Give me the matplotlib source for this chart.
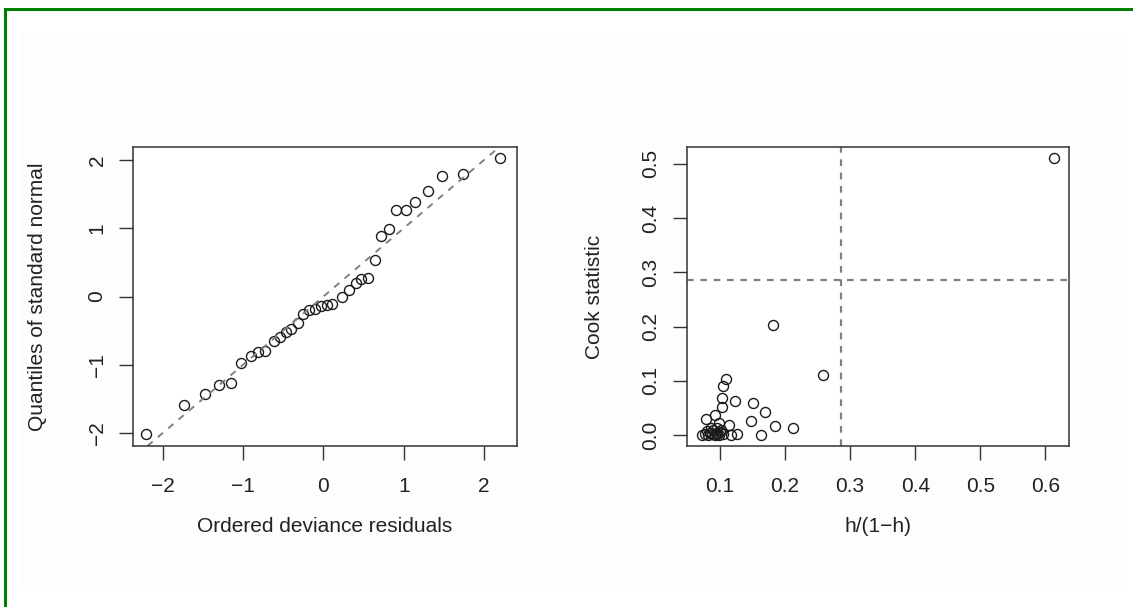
import numpy as np
import matplotlib
matplotlib.use("Agg")
import matplotlib.pyplot as plt
from matplotlib.lines import Line2D
from matplotlib.patches import Rectangle

plt.rcParams['font.family'] = ['Liberation Sans', 'DejaVu Sans']

# left panel: ordered deviance residuals vs normal quantiles
resid = [-2.21, -1.73, -1.47, -1.30, -1.15, -1.02, -0.90, -0.81, -0.73, -0.62,
         -0.54, -0.47, -0.40, -0.32, -0.25, -0.18, -0.11, -0.03, 0.04, 0.11,
         0.23, 0.32, 0.40, 0.47, 0.55, 0.64, 0.72, 0.82, 0.91, 1.03,
         1.14, 1.30, 1.48, 1.74, 2.20]
quant = [-2.02, -1.59, -1.43, -1.30, -1.26, -0.98, -0.87, -0.82, -0.80, -0.65,
         -0.60, -0.52, -0.48, -0.39, -0.26, -0.20, -0.18, -0.14, -0.13, -0.11,
         0.00, 0.10, 0.20, 0.26, 0.27, 0.54, 0.89, 0.99, 1.26, 1.26,
         1.38, 1.54, 1.76, 1.80, 2.03]

# right panel: leverage h/(1-h) vs Cook statistic
lev = [0.6136, 0.181, 0.2587, 0.109, 0.105, 0.1036, 0.123, 0.1025, 0.150, 0.169,
       0.092, 0.0785, 0.147, 0.1845, 0.2117, 0.114, 0.099, 0.163, 0.1256, 0.1164,
       0.072, 0.077, 0.081, 0.085, 0.088, 0.090, 0.092, 0.094, 0.096, 0.098,
       0.100, 0.102, 0.104, 0.086, 0.080, 0.095]
cook = [0.5105, 0.2024, 0.1107, 0.1027, 0.091, 0.0677, 0.0627, 0.0523, 0.0584, 0.043,
        0.0369, 0.0295, 0.0258, 0.0166, 0.0123, 0.0185, 0.0227, 0.0, 0.002, 0.0,
        0.0, 0.002, 0.0, 0.003, 0.001, 0.009, 0.0, 0.004, 0.002, 0.0,
        0.006, 0.009, 0.001, 0.012, 0.007, 0.013]

n_obs = 36
n_par = 4
cook_cut = 8 / (n_obs - 2 * n_par)
lev_cut = 2 * n_par / (n_obs - 2 * n_par)

fig = plt.figure(figsize=(11.33, 6.07), dpi=100)
fig.patch.set_facecolor('white')

# faint page background and green frame
fig.add_artist(Rectangle((20 / 1133, 20 / 607), 1106 / 1133, 554 / 607,
                         transform=fig.transFigure, facecolor='#fdfdfd',
                         edgecolor='none', zorder=-5))
fig.add_artist(Line2D([5.5 / 1133, 1], [1 - 8.5 / 607, 1 - 8.5 / 607],
                      transform=fig.transFigure, color='#008000', lw=2.2))
fig.add_artist(Line2D([5.5 / 1133, 5.5 / 1133], [0, 1 - 8.5 / 607],
                      transform=fig.transFigure, color='#008000', lw=2.2))

ax1 = fig.add_axes([133 / 1133, 161 / 607, 384 / 1133, 299 / 607])
ax2 = fig.add_axes([686.7 / 1133, 161 / 607, 382.6 / 1133, 299 / 607])

txt = '#222222'
for ax in (ax1, ax2):
    ax.set_facecolor('white')
    for s in ax.spines.values():
        s.set_color('#333333')
        s.set_linewidth(1.1)
    ax.tick_params(axis='both', length=10, width=1.0, color='#333333',
                   labelsize=15, labelcolor=txt)
    ax.tick_params(axis='x', pad=12)
    ax.tick_params(axis='y', pad=9)

ax1.plot(resid, quant, 'o', ms=7.2, mfc='none', mec='#1a1a1a', mew=1.0)
ax1.axline((0, 0), slope=1, color='#808080', lw=1.4, dashes=(3.5, 3.5))
ax1.set_xlim(-2.37, 2.41)
ax1.set_ylim(-2.19, 2.19)
ax1.set_xticks([-2, -1, 0, 1, 2])
ax1.set_yticks([-2, -1, 0, 1, 2])
ax1.set_xticklabels(['\u22122', '\u22121', '0', '1', '2'])
ax1.set_yticklabels(['\u22122', '\u22121', '0', '1', '2'], rotation=90, va='center')
ax1.set_xlabel('Ordered deviance residuals', fontsize=15, color=txt, va='center')
ax1.set_ylabel('Quantiles of standard normal', fontsize=15, color=txt, va='center')
ax1.xaxis.set_label_coords(0.5, -0.27)
ax1.yaxis.set_label_coords(-0.249, 0.5)

ax2.plot(lev, cook, 'o', ms=7.2, mfc='none', mec='#1a1a1a', mew=1.0)
ax2.axhline(cook_cut, color='#808080', lw=1.6, dashes=(3, 3))
ax2.axvline(lev_cut, color='#808080', lw=1.6, dashes=(3, 3))
ax2.set_xlim(0.0489, 0.6366)
ax2.set_ylim(-0.0203, 0.531)
ax2.set_xticks([0.1, 0.2, 0.3, 0.4, 0.5, 0.6])
ax2.set_yticks([0.0, 0.1, 0.2, 0.3, 0.4, 0.5])
ax2.set_xticklabels(['0.1', '0.2', '0.3', '0.4', '0.5', '0.6'])
ax2.set_yticklabels(['0.0', '0.1', '0.2', '0.3', '0.4', '0.5'], rotation=90, va='center')
ax2.set_xlabel('h/(1\u2212h)', fontsize=15, color=txt, va='center')
ax2.set_ylabel('Cook statistic', fontsize=15, color=txt, va='center')
ax2.xaxis.set_label_coords(0.5, -0.27)
ax2.yaxis.set_label_coords(-0.242, 0.5)

fig.savefig('out.png', dpi=100)
